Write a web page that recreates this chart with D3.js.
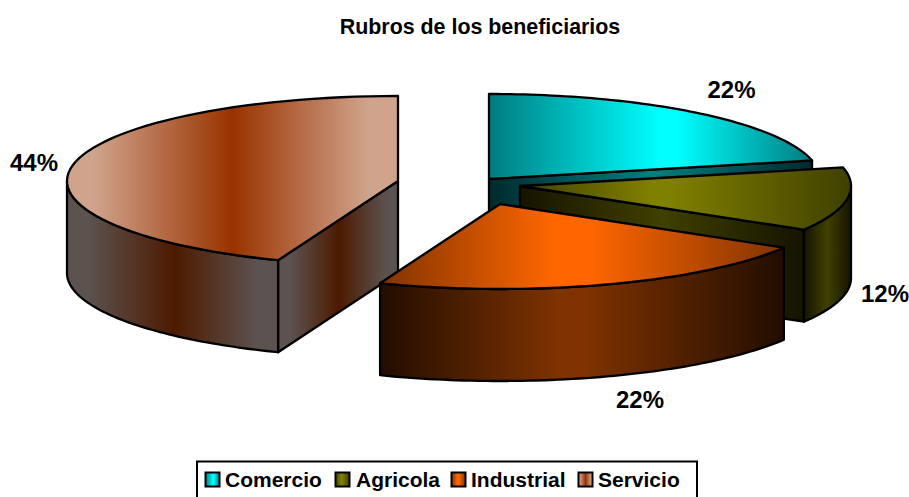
<!DOCTYPE html>
<html><head><meta charset="utf-8">
<script src="https://cdnjs.cloudflare.com/ajax/libs/d3/7.8.5/d3.min.js"></script>
<style>html,body{margin:0;padding:0;background:#fff}svg{display:block}text{font-family:"Liberation Sans",Arial,sans-serif;font-weight:bold;fill:#000}</style>
</head><body><div id="chart"></div>
<script>
const categories = ["Comercio","Agricola","Industrial","Servicio"];
const values = [21.5,12.1,22.3,44.1];
const labels = ["22%","12%","22%","44%"];
const title = "Rubros de los beneficiarios";

const W=909,H=497,RX=331,RY=85,DEPTH=92;
// exploded slice centres (layout)
const centres=[[489,179],[520,186],[500,204],[398,181]];
const labelPos=[[731.5,98],[885,302],[640,408],[34,171]];
const pal=[
 {top:[[0,"#007c80"],[.53,"#00ffff"],[.58,"#00ffff"],[1,"#007c80"]],wall:[[0,"#002a2e"],[.5,"#008080"],[1,"#002a2e"]]},
 {top:[[0,"#404000"],[.4,"#808000"],[.45,"#808000"],[1,"#404000"]],wall:[[0,"#141400"],[.5,"#404000"],[1,"#141400"]]},
 {top:[[0,"#803300"],[.43,"#ff6600"],[.52,"#ff6600"],[1,"#803300"]],wall:[[0,"#220d00"],[.45,"#803300"],[.5,"#803300"],[1,"#220d00"]]},
 {top:[[0,"#d0a38c"],[.08,"#d0a38c"],[.5,"#993300"],[.91,"#d0a38c"],[1,"#d0a38c"]],wall:[[0,"#5c5250"],[.1,"#5c5250"],[.51,"#4d1a00"],[.9,"#5c5250"],[1,"#5c5250"]]}
];
const svg=d3.select("#chart").append("svg").attr("width",W).attr("height",H);
const defs=svg.append("defs");
function grad(id,stops){
  const g=defs.append("linearGradient").attr("id",id).attr("x1",0).attr("x2",1).attr("y1",0).attr("y2",0);
  stops.forEach(s=>g.append("stop").attr("offset",s[0]).attr("stop-color",s[1]));
  return `url(#${id})`;
}
const pie=d3.pie().sort(null).value(d=>d).startAngle(0).endAngle(2*Math.PI);
const arcs=pie(values);
const HALF=Math.PI/2, FULL=3*Math.PI/2;
const line=d3.line();

function project(i){
  const [cx,cy]=centres[i];
  const px=d3.scaleLinear().domain([-1,1]).range([cx-RX,cx+RX]);
  const py=d3.scaleLinear().domain([-1,1]).range([cy-RY,cy+RY]);
  return a=>[px(Math.sin(a)),py(-Math.cos(a))];
}
const arcPts=(p,a0,a1)=>d3.range(0,65).map(k=>p(a0+(a1-a0)*k/64));
const down=pt=>[pt[0],pt[1]+DEPTH];
function shape(pts,fill){
  return svg.append("path").attr("d",line(pts)+"Z").attr("fill",fill)
    .attr("stroke","#000").attr("stroke-width",2.3).attr("stroke-linejoin","round");
}
function drawSlice(i){
  const a=arcs[i],p=project(i),c=centres[i];
  const wallFill=grad("w"+i,pal[i].wall),wallFill2=grad("v"+i,pal[i].wall),topFill=grad("t"+i,pal[i].top);
  // radial cut wall facing the viewer
  const cutAngle=a.endAngle<=Math.PI*0.75?a.endAngle:(a.startAngle>=Math.PI&&a.startAngle<FULL?a.startAngle:null);
  if(cutAngle!==null){
    const e=p(cutAngle);
    shape([c,e,down(e),down(c)],wallFill2);
  }
  // outer rim wall
  const w0=Math.max(a.startAngle,HALF),w1=Math.min(a.endAngle,FULL);
  if(w1>w0){
    const rim=arcPts(p,w0,w1);
    shape(rim.concat(rim.map(down).reverse()),wallFill);
  }
  // top face
  shape([c].concat(arcPts(p,a.startAngle,a.endAngle)),topFill);
}
[3,0,1,2].forEach(drawSlice);

svg.append("text").attr("x",480).attr("y",34).attr("text-anchor","middle").style("font-size","21.4px").text(title);
svg.selectAll(".lab").data(labels).enter().append("text").attr("class","lab")
  .attr("x",(d,i)=>labelPos[i][0]).attr("y",(d,i)=>labelPos[i][1]).attr("text-anchor","middle").style("font-size","24px").text(d=>d);

// legend
const lg=svg.append("g");
lg.append("rect").attr("x",197).attr("y",461.5).attr("width",500).attr("height",45).attr("fill","#fff").attr("stroke","#000").attr("stroke-width",2);
const lx=[205.5,335.5,451.5,578.5], tx=[225,356,471,598];
categories.forEach((c,i)=>{
  lg.append("rect").attr("x",lx[i]).attr("y",472.5).attr("width",14).attr("height",14).attr("fill",grad("k"+i,pal[i].top)).attr("stroke","#000").attr("stroke-width",2);
  lg.append("text").attr("x",tx[i]).attr("y",487).style("font-size","21px").text(c);
});
</script></body></html>
